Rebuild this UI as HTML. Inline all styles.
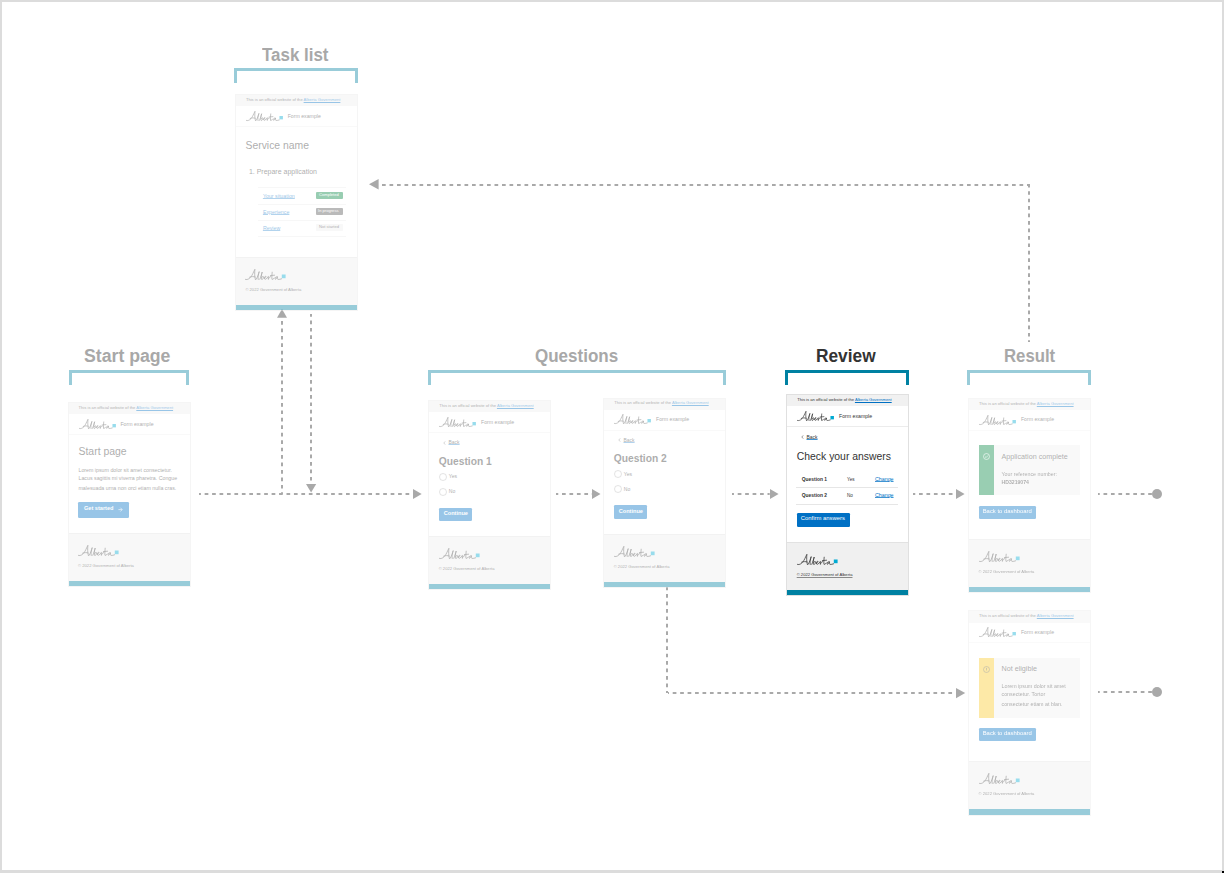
<!DOCTYPE html><html><head><meta charset="utf-8"><style>html,body{margin:0;padding:0;background:#fff}body{width:1224px;height:873px;position:relative;overflow:hidden;font-family:"Liberation Sans",sans-serif}</style></head><body>
<div style="position:absolute;left:0;top:0;width:1224px;height:873px;box-sizing:border-box;border-top:2px solid #dcdcdc;border-left:2px solid #dcdcdc;border-right:2.5px solid #dcdcdc;border-bottom:3px solid #dcdcdc"></div>
<div style="position:absolute;left:262.30px;top:46.99px;font-size:17.50px;line-height:17.50px;color:#a8a8a8;font-weight:700;white-space:nowrap;transform:scaleX(0.967);transform-origin:0 0;">Task list</div>
<div style="position:absolute;left:234.00px;top:68.00px;width:118.00px;height:12px;border:3px solid #99ccd9;border-bottom:none"></div>
<div style="position:absolute;left:84.00px;top:348.19px;font-size:17.50px;line-height:17.50px;color:#a8a8a8;font-weight:700;white-space:nowrap;transform:scaleX(1.010);transform-origin:0 0;">Start page</div>
<div style="position:absolute;left:69.20px;top:370.00px;width:113.80px;height:12px;border:3px solid #99ccd9;border-bottom:none"></div>
<div style="position:absolute;left:535.00px;top:348.19px;font-size:17.50px;line-height:17.50px;color:#a8a8a8;font-weight:700;white-space:nowrap;transform:scaleX(0.972);transform-origin:0 0;">Questions</div>
<div style="position:absolute;left:428.40px;top:370.00px;width:292.00px;height:12px;border:3px solid #99ccd9;border-bottom:none"></div>
<div style="position:absolute;left:816.00px;top:348.29px;font-size:17.50px;line-height:17.50px;color:#333;font-weight:700;white-space:nowrap;transform:scaleX(0.988);transform-origin:0 0;">Review</div>
<div style="position:absolute;left:784.80px;top:370.00px;width:118.40px;height:12px;border:3px solid #0081a2;border-bottom:none"></div>
<div style="position:absolute;left:1003.80px;top:348.29px;font-size:17.50px;line-height:17.50px;color:#a8a8a8;font-weight:700;white-space:nowrap;transform:scaleX(0.957);transform-origin:0 0;">Result</div>
<div style="position:absolute;left:966.60px;top:370.00px;width:118.40px;height:12px;border:3px solid #99ccd9;border-bottom:none"></div>
<svg style="position:absolute;left:199.00px;top:493.00px" width="213.80" height="2"><line x1="0" y1="1" x2="213.80" y2="1" stroke="#a9a9a9" stroke-width="2" stroke-dasharray="3.7 3.74" stroke-dashoffset="1.79"/></svg>
<svg style="position:absolute;left:411.80px;top:488.00px" width="10.70" height="12.00"><polygon points="1.00,1.00 1.00,11.00 9.70,6.00" fill="#a9a9a9"/></svg>
<svg style="position:absolute;left:281.10px;top:318.00px" width="2" height="176.00"><line x1="1" y1="0" x2="1" y2="176.00" stroke="#a9a9a9" stroke-width="2" stroke-dasharray="3.7 3.75" stroke-dashoffset="4.45"/></svg>
<svg style="position:absolute;left:276.10px;top:308.00px" width="12.00" height="10.80"><polygon points="6.00,1.00 1.00,9.80 11.00,9.80" fill="#a9a9a9"/></svg>
<svg style="position:absolute;left:310.10px;top:314.00px" width="2" height="170.00"><line x1="1" y1="0" x2="1" y2="170.00" stroke="#a9a9a9" stroke-width="2" stroke-dasharray="3.7 3.75" stroke-dashoffset="1.00"/></svg>
<svg style="position:absolute;left:305.00px;top:483.20px" width="12.20" height="10.60"><polygon points="1.00,1.00 11.20,1.00 6.10,9.60" fill="#a9a9a9"/></svg>
<svg style="position:absolute;left:555.90px;top:493.00px" width="36.00" height="2"><line x1="0" y1="1" x2="36.00" y2="1" stroke="#a9a9a9" stroke-width="2" stroke-dasharray="3.7 3.75" stroke-dashoffset="1.45"/></svg>
<svg style="position:absolute;left:590.90px;top:488.00px" width="10.50" height="12.00"><polygon points="1.00,1.00 1.00,11.00 9.50,6.00" fill="#a9a9a9"/></svg>
<svg style="position:absolute;left:732.30px;top:493.00px" width="37.70" height="2"><line x1="0" y1="1" x2="37.70" y2="1" stroke="#a9a9a9" stroke-width="2" stroke-dasharray="3.7 3.75" stroke-dashoffset="1.75"/></svg>
<svg style="position:absolute;left:769.00px;top:488.00px" width="10.60" height="12.00"><polygon points="1.00,1.00 1.00,11.00 9.60,6.00" fill="#a9a9a9"/></svg>
<svg style="position:absolute;left:913.20px;top:493.00px" width="42.80" height="2"><line x1="0" y1="1" x2="42.80" y2="1" stroke="#a9a9a9" stroke-width="2" stroke-dasharray="3.7 3.75" stroke-dashoffset="1.45"/></svg>
<svg style="position:absolute;left:955.00px;top:488.00px" width="10.60" height="12.00"><polygon points="1.00,1.00 1.00,11.00 9.60,6.00" fill="#a9a9a9"/></svg>
<svg style="position:absolute;left:1097.90px;top:493.00px" width="54.10" height="2"><line x1="0" y1="1" x2="54.10" y2="1" stroke="#a9a9a9" stroke-width="2" stroke-dasharray="3.7 3.75" stroke-dashoffset="1.95"/></svg>
<div style="position:absolute;left:1151.90px;top:488.80px;width:10px;height:10px;border-radius:50%;background:#a9a9a9"></div>
<svg style="position:absolute;left:1028.30px;top:183.70px" width="2" height="158.30"><line x1="1" y1="0" x2="1" y2="158.30" stroke="#a9a9a9" stroke-width="2" stroke-dasharray="3.7 3.76" stroke-dashoffset="0.29"/></svg>
<svg style="position:absolute;left:382.20px;top:183.70px" width="648.10" height="2"><line x1="0" y1="1" x2="648.10" y2="1" stroke="#a9a9a9" stroke-width="2" stroke-dasharray="3.7 3.80" stroke-dashoffset="0.00"/></svg>
<svg style="position:absolute;left:368.20px;top:178.30px" width="11.60" height="12.40"><polygon points="1.00,6.20 10.60,1.00 10.60,11.40" fill="#a9a9a9"/></svg>
<svg style="position:absolute;left:666.20px;top:587.00px" width="2" height="106.30"><line x1="1" y1="0" x2="1" y2="106.30" stroke="#a9a9a9" stroke-width="2" stroke-dasharray="3.7 3.75" stroke-dashoffset="0.40"/></svg>
<svg style="position:absolute;left:668.20px;top:692.30px" width="287.80" height="2"><line x1="0" y1="1" x2="287.80" y2="1" stroke="#a9a9a9" stroke-width="2" stroke-dasharray="3.7 3.75" stroke-dashoffset="2.75"/></svg>
<svg style="position:absolute;left:955.00px;top:687.20px" width="11.20" height="12.20"><polygon points="1.00,1.00 1.00,11.20 10.20,6.10" fill="#a9a9a9"/></svg>
<svg style="position:absolute;left:1097.90px;top:691.00px" width="54.10" height="2"><line x1="0" y1="1" x2="54.10" y2="1" stroke="#a9a9a9" stroke-width="2" stroke-dasharray="3.7 3.75" stroke-dashoffset="1.95"/></svg>
<div style="position:absolute;left:1151.90px;top:687.00px;width:10px;height:10px;border-radius:50%;background:#a9a9a9"></div>
<div style="position:absolute;left:235.00px;top:94.20px;width:121.50px;height:215.60px;background:#fff;opacity:0.4;">
<div style="position:absolute;left:0.00px;top:0.00px;width:121.50px;height:11.80px;background:#f0f0f0;"></div>
<div style="position:absolute;left:10.9px;top:3.75px;font-size:4.11px;line-height:4.11px;color:#333;white-space:nowrap">This is an official website of the <span style="color:#0070c4;text-decoration:underline;text-decoration-thickness:0.4px;text-underline-offset:0.6px">Alberta Government</span></div>
<div style="position:absolute;left:0.00px;top:32.20px;width:121.50px;height:0.60px;background:#f2f2f2;"></div>
<svg style="position:absolute;left:10.90px;top:16.50px;overflow:visible" width="37.31" height="10.01" viewBox="0 0 41 11"><path d="M0.4,10.4 C2.5,11.2 5.2,9.5 7,6.2 C8.2,4 9.2,1.6 9.9,0.3 C9.6,3.5 9.4,7 10.4,10.6 M4.6,8.2 C6.5,7.4 8.5,7.4 10.2,8 M11.2,10.3 C12.6,8 13.8,4.5 14.2,2.6 C13.2,5.5 12.7,8.5 13.2,10.5 M14.8,10.3 C15.8,8 16.8,4.5 17.2,3 C16.4,6 15.9,9 16.6,10.4 C17.8,10.6 19,8.8 18.4,7.6 C17.8,7 17,7.8 16.8,8.5 M19.2,9.2 C20.4,8.8 21.4,7.6 20.8,7.2 C20,7 19.2,8.6 19.6,10 C20.2,10.8 21.4,10 22,9 M22.2,9 C22.8,8.2 23.2,7.2 23.4,7.4 C23.4,8.6 23.2,9.8 23.4,10.4 C23.8,8.8 24.6,7.4 25.6,7.6 M27.2,3.2 C27,5.6 26.6,8.4 27,10.4 C27.6,10.6 28.6,9.8 29.2,9 M25.4,6.6 L29.6,6.2 M32.4,7.8 C31,7.2 29.8,8.8 30,10 C30.4,10.8 31.6,9.6 32.4,7.8 C32.2,9 32.2,10.2 33,10.4 C34.2,10.6 35.4,10.2 36.6,9.8" fill="none" stroke="#333" stroke-width="0.75" stroke-linecap="round"/><rect x="36.8" y="5.5" width="3.8" height="3.7" fill="#00aad2"/></svg>
<div style="position:absolute;left:52.70px;top:19.50px;font-size:5.20px;line-height:5.20px;color:#333;font-weight:400;white-space:nowrap;">Form example</div>
<div style="position:absolute;left:10.50px;top:47.20px;font-size:10.40px;line-height:10.40px;color:#333;font-weight:400;white-space:nowrap;">Service name</div>
<div style="position:absolute;left:13.90px;top:74.07px;font-size:7.00px;line-height:7.00px;color:#333;font-weight:400;white-space:nowrap;">1. Prepare application</div>
<div style="position:absolute;left:23.00px;top:93.00px;width:88.20px;height:0.50px;background:#ececec;"></div>
<div style="position:absolute;left:23.00px;top:110.20px;width:88.20px;height:0.50px;background:#ececec;"></div>
<div style="position:absolute;left:23.00px;top:126.20px;width:88.20px;height:0.50px;background:#ececec;"></div>
<div style="position:absolute;left:23.00px;top:142.20px;width:88.20px;height:0.50px;background:#ececec;"></div>
<div style="position:absolute;left:27.90px;top:99.55px;font-size:5.30px;line-height:5.30px;color:#0070c4;font-weight:400;white-space:nowrap;text-decoration:underline;text-decoration-color:rgba(0,112,196,0.75);text-decoration-thickness:0.5px;text-underline-offset:0.2px">Your situation</div>
<div style="position:absolute;left:27.90px;top:115.85px;font-size:5.30px;line-height:5.30px;color:#0070c4;font-weight:400;white-space:nowrap;text-decoration:underline;text-decoration-color:rgba(0,112,196,0.75);text-decoration-thickness:0.5px;text-underline-offset:0.2px">Experience</div>
<div style="position:absolute;left:27.90px;top:131.85px;font-size:5.30px;line-height:5.30px;color:#0070c4;font-weight:400;white-space:nowrap;text-decoration:underline;text-decoration-color:rgba(0,112,196,0.75);text-decoration-thickness:0.5px;text-underline-offset:0.2px">Review</div>
<div style="position:absolute;left:81px;top:97.5px;width:27px;height:7px;background:#00853f;border-radius:1px"></div>
<div style="position:absolute;left:84.00px;top:98.55px;font-size:4.10px;line-height:4.10px;color:#fff;font-weight:400;white-space:nowrap;">Completed</div>
<div style="position:absolute;left:80.5px;top:113.8px;width:27.2px;height:7px;background:#555;border-radius:1px"></div>
<div style="position:absolute;left:83.00px;top:114.85px;font-size:4.10px;line-height:4.10px;color:#fff;font-weight:400;white-space:nowrap;">In progress</div>
<div style="position:absolute;left:81px;top:129.8px;width:26.5px;height:7px;background:#eee;border-radius:1px"></div>
<div style="position:absolute;left:84.00px;top:130.85px;font-size:4.10px;line-height:4.10px;color:#333;font-weight:400;white-space:nowrap;">Not started</div>
<div style="position:absolute;left:0.00px;top:162.40px;width:121.50px;height:48.10px;background:#eeeeee;border-top:0.6px solid #e1e1e1;box-sizing:border-box"></div>
<svg style="position:absolute;left:10.40px;top:174.80px;overflow:visible" width="41.00" height="11.00" viewBox="0 0 41 11"><path d="M0.4,10.4 C2.5,11.2 5.2,9.5 7,6.2 C8.2,4 9.2,1.6 9.9,0.3 C9.6,3.5 9.4,7 10.4,10.6 M4.6,8.2 C6.5,7.4 8.5,7.4 10.2,8 M11.2,10.3 C12.6,8 13.8,4.5 14.2,2.6 C13.2,5.5 12.7,8.5 13.2,10.5 M14.8,10.3 C15.8,8 16.8,4.5 17.2,3 C16.4,6 15.9,9 16.6,10.4 C17.8,10.6 19,8.8 18.4,7.6 C17.8,7 17,7.8 16.8,8.5 M19.2,9.2 C20.4,8.8 21.4,7.6 20.8,7.2 C20,7 19.2,8.6 19.6,10 C20.2,10.8 21.4,10 22,9 M22.2,9 C22.8,8.2 23.2,7.2 23.4,7.4 C23.4,8.6 23.2,9.8 23.4,10.4 C23.8,8.8 24.6,7.4 25.6,7.6 M27.2,3.2 C27,5.6 26.6,8.4 27,10.4 C27.6,10.6 28.6,9.8 29.2,9 M25.4,6.6 L29.6,6.2 M32.4,7.8 C31,7.2 29.8,8.8 30,10 C30.4,10.8 31.6,9.6 32.4,7.8 C32.2,9 32.2,10.2 33,10.4 C34.2,10.6 35.4,10.2 36.6,9.8" fill="none" stroke="#333" stroke-width="0.75" stroke-linecap="round"/><rect x="36.8" y="5.5" width="3.8" height="3.7" fill="#00aad2"/></svg>
<div style="position:absolute;left:10.40px;top:193.73px;font-size:4.14px;line-height:4.14px;color:#333;font-weight:400;white-space:nowrap;">© 2022 Government of Alberta</div>
<div style="position:absolute;left:0.00px;top:210.50px;width:121.50px;height:5.10px;background:#0081a2;"></div>
<div style="position:absolute;left:0;top:0;width:120.50px;height:214.60px;border:0.5px solid #e8e8e8;box-sizing:content-box;pointer-events:none"></div>
</div>
<div style="position:absolute;left:67.70px;top:402.20px;width:122.00px;height:183.80px;background:#fff;opacity:0.4;">
<div style="position:absolute;left:0.00px;top:0.00px;width:122.00px;height:11.80px;background:#f0f0f0;"></div>
<div style="position:absolute;left:10.9px;top:3.75px;font-size:4.11px;line-height:4.11px;color:#333;white-space:nowrap">This is an official website of the <span style="color:#0070c4;text-decoration:underline;text-decoration-thickness:0.4px;text-underline-offset:0.6px">Alberta Government</span></div>
<div style="position:absolute;left:0.00px;top:32.20px;width:122.00px;height:0.60px;background:#f2f2f2;"></div>
<svg style="position:absolute;left:10.90px;top:17.10px;overflow:visible" width="37.31" height="10.01" viewBox="0 0 41 11"><path d="M0.4,10.4 C2.5,11.2 5.2,9.5 7,6.2 C8.2,4 9.2,1.6 9.9,0.3 C9.6,3.5 9.4,7 10.4,10.6 M4.6,8.2 C6.5,7.4 8.5,7.4 10.2,8 M11.2,10.3 C12.6,8 13.8,4.5 14.2,2.6 C13.2,5.5 12.7,8.5 13.2,10.5 M14.8,10.3 C15.8,8 16.8,4.5 17.2,3 C16.4,6 15.9,9 16.6,10.4 C17.8,10.6 19,8.8 18.4,7.6 C17.8,7 17,7.8 16.8,8.5 M19.2,9.2 C20.4,8.8 21.4,7.6 20.8,7.2 C20,7 19.2,8.6 19.6,10 C20.2,10.8 21.4,10 22,9 M22.2,9 C22.8,8.2 23.2,7.2 23.4,7.4 C23.4,8.6 23.2,9.8 23.4,10.4 C23.8,8.8 24.6,7.4 25.6,7.6 M27.2,3.2 C27,5.6 26.6,8.4 27,10.4 C27.6,10.6 28.6,9.8 29.2,9 M25.4,6.6 L29.6,6.2 M32.4,7.8 C31,7.2 29.8,8.8 30,10 C30.4,10.8 31.6,9.6 32.4,7.8 C32.2,9 32.2,10.2 33,10.4 C34.2,10.6 35.4,10.2 36.6,9.8" fill="none" stroke="#333" stroke-width="0.75" stroke-linecap="round"/><rect x="36.8" y="5.5" width="3.8" height="3.7" fill="#00aad2"/></svg>
<div style="position:absolute;left:52.70px;top:19.80px;font-size:5.20px;line-height:5.20px;color:#333;font-weight:400;white-space:nowrap;">Form example</div>
<div style="position:absolute;left:10.80px;top:44.85px;font-size:10.45px;line-height:10.45px;color:#333;font-weight:400;white-space:nowrap;">Start page</div>
<div style="position:absolute;left:10.80px;top:65.56px;font-size:5.27px;line-height:5.27px;color:#333;font-weight:400;white-space:nowrap;">Lorem ipsum dolor sit amet consectetur.</div>
<div style="position:absolute;left:10.80px;top:73.66px;font-size:5.27px;line-height:5.27px;color:#333;font-weight:400;white-space:nowrap;">Lacus sagittis mi viverra pharetra. Congue</div>
<div style="position:absolute;left:10.80px;top:83.36px;font-size:5.27px;line-height:5.27px;color:#333;font-weight:400;white-space:nowrap;">malesuada urna non orci etiam nulla cras.</div>
<div style="position:absolute;left:10.30px;top:99.60px;width:51.00px;height:16.00px;background:#0070c4;border-radius:1.2px"></div>
<div style="position:absolute;left:16.30px;top:104.20px;font-size:5.60px;line-height:5.60px;color:#fff;font-weight:700;white-space:nowrap;">Get started</div>
<svg style="position:absolute;left:50.6px;top:105.2px" width="5" height="5" viewBox="0 0 5 5"><path d="M0.4,2.6 H4.1 M2.4,0.7 L4.2,2.6 L2.4,4.5" fill="none" stroke="#fff" stroke-width="0.6"/></svg>
<div style="position:absolute;left:0.00px;top:130.80px;width:122.00px;height:48.00px;background:#eeeeee;border-top:0.6px solid #e1e1e1;box-sizing:border-box"></div>
<svg style="position:absolute;left:10.40px;top:142.80px;overflow:visible" width="41.00" height="11.00" viewBox="0 0 41 11"><path d="M0.4,10.4 C2.5,11.2 5.2,9.5 7,6.2 C8.2,4 9.2,1.6 9.9,0.3 C9.6,3.5 9.4,7 10.4,10.6 M4.6,8.2 C6.5,7.4 8.5,7.4 10.2,8 M11.2,10.3 C12.6,8 13.8,4.5 14.2,2.6 C13.2,5.5 12.7,8.5 13.2,10.5 M14.8,10.3 C15.8,8 16.8,4.5 17.2,3 C16.4,6 15.9,9 16.6,10.4 C17.8,10.6 19,8.8 18.4,7.6 C17.8,7 17,7.8 16.8,8.5 M19.2,9.2 C20.4,8.8 21.4,7.6 20.8,7.2 C20,7 19.2,8.6 19.6,10 C20.2,10.8 21.4,10 22,9 M22.2,9 C22.8,8.2 23.2,7.2 23.4,7.4 C23.4,8.6 23.2,9.8 23.4,10.4 C23.8,8.8 24.6,7.4 25.6,7.6 M27.2,3.2 C27,5.6 26.6,8.4 27,10.4 C27.6,10.6 28.6,9.8 29.2,9 M25.4,6.6 L29.6,6.2 M32.4,7.8 C31,7.2 29.8,8.8 30,10 C30.4,10.8 31.6,9.6 32.4,7.8 C32.2,9 32.2,10.2 33,10.4 C34.2,10.6 35.4,10.2 36.6,9.8" fill="none" stroke="#333" stroke-width="0.75" stroke-linecap="round"/><rect x="36.8" y="5.5" width="3.8" height="3.7" fill="#00aad2"/></svg>
<div style="position:absolute;left:10.40px;top:161.93px;font-size:4.14px;line-height:4.14px;color:#333;font-weight:400;white-space:nowrap;">© 2022 Government of Alberta</div>
<div style="position:absolute;left:0.00px;top:178.80px;width:122.00px;height:5.00px;background:#0081a2;"></div>
<div style="position:absolute;left:0;top:0;width:121.00px;height:182.80px;border:0.5px solid #e8e8e8;box-sizing:content-box;pointer-events:none"></div>
</div>
<div style="position:absolute;left:428.30px;top:400.20px;width:122.00px;height:189.00px;background:#fff;opacity:0.4;">
<div style="position:absolute;left:0.00px;top:0.00px;width:122.00px;height:12.00px;background:#f0f0f0;"></div>
<div style="position:absolute;left:10.9px;top:3.65px;font-size:4.11px;line-height:4.11px;color:#333;white-space:nowrap">This is an official website of the <span style="color:#0070c4;text-decoration:underline;text-decoration-thickness:0.4px;text-underline-offset:0.6px">Alberta Government</span></div>
<div style="position:absolute;left:0.00px;top:32.00px;width:122.00px;height:0.60px;background:#f2f2f2;"></div>
<svg style="position:absolute;left:10.90px;top:16.50px;overflow:visible" width="37.31" height="10.01" viewBox="0 0 41 11"><path d="M0.4,10.4 C2.5,11.2 5.2,9.5 7,6.2 C8.2,4 9.2,1.6 9.9,0.3 C9.6,3.5 9.4,7 10.4,10.6 M4.6,8.2 C6.5,7.4 8.5,7.4 10.2,8 M11.2,10.3 C12.6,8 13.8,4.5 14.2,2.6 C13.2,5.5 12.7,8.5 13.2,10.5 M14.8,10.3 C15.8,8 16.8,4.5 17.2,3 C16.4,6 15.9,9 16.6,10.4 C17.8,10.6 19,8.8 18.4,7.6 C17.8,7 17,7.8 16.8,8.5 M19.2,9.2 C20.4,8.8 21.4,7.6 20.8,7.2 C20,7 19.2,8.6 19.6,10 C20.2,10.8 21.4,10 22,9 M22.2,9 C22.8,8.2 23.2,7.2 23.4,7.4 C23.4,8.6 23.2,9.8 23.4,10.4 C23.8,8.8 24.6,7.4 25.6,7.6 M27.2,3.2 C27,5.6 26.6,8.4 27,10.4 C27.6,10.6 28.6,9.8 29.2,9 M25.4,6.6 L29.6,6.2 M32.4,7.8 C31,7.2 29.8,8.8 30,10 C30.4,10.8 31.6,9.6 32.4,7.8 C32.2,9 32.2,10.2 33,10.4 C34.2,10.6 35.4,10.2 36.6,9.8" fill="none" stroke="#333" stroke-width="0.75" stroke-linecap="round"/><rect x="36.8" y="5.5" width="3.8" height="3.7" fill="#00aad2"/></svg>
<div style="position:absolute;left:52.70px;top:19.50px;font-size:5.20px;line-height:5.20px;color:#333;font-weight:400;white-space:nowrap;">Form example</div>
<svg style="position:absolute;left:14.5px;top:40.60px" width="3" height="4" viewBox="0 0 3 4"><path d="M2.2,0.4 L0.8,2 L2.2,3.6" fill="none" stroke="#333" stroke-width="0.5"/></svg>
<div style="position:absolute;left:20.20px;top:40.10px;font-size:5.00px;line-height:5.00px;color:#333;font-weight:400;white-space:nowrap;text-decoration:underline;text-decoration-color:rgba(0,112,196,0.75);text-decoration-thickness:0.5px;text-underline-offset:0.2px">Back</div>
<div style="position:absolute;left:10.50px;top:56.62px;font-size:10.25px;line-height:10.25px;color:#333;font-weight:700;white-space:nowrap;">Question 1</div>
<svg style="position:absolute;left:10.4px;top:72.70px" width="8" height="8" viewBox="0 0 8 8"><circle cx="4" cy="4" r="3.5" fill="#fff" stroke="#666" stroke-width="0.45"/></svg>
<div style="position:absolute;left:20.50px;top:74.15px;font-size:5.10px;line-height:5.10px;color:#333;font-weight:400;white-space:nowrap;">Yes</div>
<svg style="position:absolute;left:10.4px;top:87.40px" width="8" height="8" viewBox="0 0 8 8"><circle cx="4" cy="4" r="3.5" fill="#fff" stroke="#666" stroke-width="0.45"/></svg>
<div style="position:absolute;left:20.50px;top:88.85px;font-size:5.10px;line-height:5.10px;color:#333;font-weight:400;white-space:nowrap;">No</div>
<div style="position:absolute;left:10.60px;top:107.70px;width:33.30px;height:13.10px;background:#0070c4;border-radius:1.2px"></div>
<div style="position:absolute;left:15.40px;top:110.85px;font-size:5.60px;line-height:5.60px;color:#fff;font-weight:700;white-space:nowrap;">Continue</div>
<div style="position:absolute;left:0.00px;top:135.80px;width:122.00px;height:48.00px;background:#eeeeee;border-top:0.6px solid #e1e1e1;box-sizing:border-box"></div>
<svg style="position:absolute;left:10.40px;top:147.80px;overflow:visible" width="41.00" height="11.00" viewBox="0 0 41 11"><path d="M0.4,10.4 C2.5,11.2 5.2,9.5 7,6.2 C8.2,4 9.2,1.6 9.9,0.3 C9.6,3.5 9.4,7 10.4,10.6 M4.6,8.2 C6.5,7.4 8.5,7.4 10.2,8 M11.2,10.3 C12.6,8 13.8,4.5 14.2,2.6 C13.2,5.5 12.7,8.5 13.2,10.5 M14.8,10.3 C15.8,8 16.8,4.5 17.2,3 C16.4,6 15.9,9 16.6,10.4 C17.8,10.6 19,8.8 18.4,7.6 C17.8,7 17,7.8 16.8,8.5 M19.2,9.2 C20.4,8.8 21.4,7.6 20.8,7.2 C20,7 19.2,8.6 19.6,10 C20.2,10.8 21.4,10 22,9 M22.2,9 C22.8,8.2 23.2,7.2 23.4,7.4 C23.4,8.6 23.2,9.8 23.4,10.4 C23.8,8.8 24.6,7.4 25.6,7.6 M27.2,3.2 C27,5.6 26.6,8.4 27,10.4 C27.6,10.6 28.6,9.8 29.2,9 M25.4,6.6 L29.6,6.2 M32.4,7.8 C31,7.2 29.8,8.8 30,10 C30.4,10.8 31.6,9.6 32.4,7.8 C32.2,9 32.2,10.2 33,10.4 C34.2,10.6 35.4,10.2 36.6,9.8" fill="none" stroke="#333" stroke-width="0.75" stroke-linecap="round"/><rect x="36.8" y="5.5" width="3.8" height="3.7" fill="#00aad2"/></svg>
<div style="position:absolute;left:10.40px;top:167.13px;font-size:4.14px;line-height:4.14px;color:#333;font-weight:400;white-space:nowrap;">© 2022 Government of Alberta</div>
<div style="position:absolute;left:0.00px;top:183.80px;width:122.00px;height:5.20px;background:#0081a2;"></div>
<div style="position:absolute;left:0;top:0;width:121.00px;height:188.00px;border:0.5px solid #e8e8e8;box-sizing:content-box;pointer-events:none"></div>
</div>
<div style="position:absolute;left:603.30px;top:397.80px;width:122.00px;height:189.30px;background:#fff;opacity:0.4;">
<div style="position:absolute;left:0.00px;top:0.00px;width:122.00px;height:12.00px;background:#f0f0f0;"></div>
<div style="position:absolute;left:10.9px;top:3.65px;font-size:4.11px;line-height:4.11px;color:#333;white-space:nowrap">This is an official website of the <span style="color:#0070c4;text-decoration:underline;text-decoration-thickness:0.4px;text-underline-offset:0.6px">Alberta Government</span></div>
<div style="position:absolute;left:0.00px;top:32.00px;width:122.00px;height:0.60px;background:#f2f2f2;"></div>
<svg style="position:absolute;left:10.90px;top:16.50px;overflow:visible" width="37.31" height="10.01" viewBox="0 0 41 11"><path d="M0.4,10.4 C2.5,11.2 5.2,9.5 7,6.2 C8.2,4 9.2,1.6 9.9,0.3 C9.6,3.5 9.4,7 10.4,10.6 M4.6,8.2 C6.5,7.4 8.5,7.4 10.2,8 M11.2,10.3 C12.6,8 13.8,4.5 14.2,2.6 C13.2,5.5 12.7,8.5 13.2,10.5 M14.8,10.3 C15.8,8 16.8,4.5 17.2,3 C16.4,6 15.9,9 16.6,10.4 C17.8,10.6 19,8.8 18.4,7.6 C17.8,7 17,7.8 16.8,8.5 M19.2,9.2 C20.4,8.8 21.4,7.6 20.8,7.2 C20,7 19.2,8.6 19.6,10 C20.2,10.8 21.4,10 22,9 M22.2,9 C22.8,8.2 23.2,7.2 23.4,7.4 C23.4,8.6 23.2,9.8 23.4,10.4 C23.8,8.8 24.6,7.4 25.6,7.6 M27.2,3.2 C27,5.6 26.6,8.4 27,10.4 C27.6,10.6 28.6,9.8 29.2,9 M25.4,6.6 L29.6,6.2 M32.4,7.8 C31,7.2 29.8,8.8 30,10 C30.4,10.8 31.6,9.6 32.4,7.8 C32.2,9 32.2,10.2 33,10.4 C34.2,10.6 35.4,10.2 36.6,9.8" fill="none" stroke="#333" stroke-width="0.75" stroke-linecap="round"/><rect x="36.8" y="5.5" width="3.8" height="3.7" fill="#00aad2"/></svg>
<div style="position:absolute;left:52.70px;top:19.50px;font-size:5.20px;line-height:5.20px;color:#333;font-weight:400;white-space:nowrap;">Form example</div>
<svg style="position:absolute;left:14.5px;top:40.60px" width="3" height="4" viewBox="0 0 3 4"><path d="M2.2,0.4 L0.8,2 L2.2,3.6" fill="none" stroke="#333" stroke-width="0.5"/></svg>
<div style="position:absolute;left:20.20px;top:40.10px;font-size:5.00px;line-height:5.00px;color:#333;font-weight:400;white-space:nowrap;text-decoration:underline;text-decoration-color:rgba(0,112,196,0.75);text-decoration-thickness:0.5px;text-underline-offset:0.2px">Back</div>
<div style="position:absolute;left:10.50px;top:56.62px;font-size:10.25px;line-height:10.25px;color:#333;font-weight:700;white-space:nowrap;">Question 2</div>
<svg style="position:absolute;left:10.4px;top:72.70px" width="8" height="8" viewBox="0 0 8 8"><circle cx="4" cy="4" r="3.5" fill="#fff" stroke="#666" stroke-width="0.45"/></svg>
<div style="position:absolute;left:20.50px;top:74.15px;font-size:5.10px;line-height:5.10px;color:#333;font-weight:400;white-space:nowrap;">Yes</div>
<svg style="position:absolute;left:10.4px;top:87.40px" width="8" height="8" viewBox="0 0 8 8"><circle cx="4" cy="4" r="3.5" fill="#fff" stroke="#666" stroke-width="0.45"/></svg>
<div style="position:absolute;left:20.50px;top:88.85px;font-size:5.10px;line-height:5.10px;color:#333;font-weight:400;white-space:nowrap;">No</div>
<div style="position:absolute;left:10.60px;top:107.70px;width:33.30px;height:13.10px;background:#0070c4;border-radius:1.2px"></div>
<div style="position:absolute;left:15.40px;top:110.85px;font-size:5.60px;line-height:5.60px;color:#fff;font-weight:700;white-space:nowrap;">Continue</div>
<div style="position:absolute;left:0.00px;top:135.80px;width:122.00px;height:48.00px;background:#eeeeee;border-top:0.6px solid #e1e1e1;box-sizing:border-box"></div>
<svg style="position:absolute;left:10.40px;top:147.80px;overflow:visible" width="41.00" height="11.00" viewBox="0 0 41 11"><path d="M0.4,10.4 C2.5,11.2 5.2,9.5 7,6.2 C8.2,4 9.2,1.6 9.9,0.3 C9.6,3.5 9.4,7 10.4,10.6 M4.6,8.2 C6.5,7.4 8.5,7.4 10.2,8 M11.2,10.3 C12.6,8 13.8,4.5 14.2,2.6 C13.2,5.5 12.7,8.5 13.2,10.5 M14.8,10.3 C15.8,8 16.8,4.5 17.2,3 C16.4,6 15.9,9 16.6,10.4 C17.8,10.6 19,8.8 18.4,7.6 C17.8,7 17,7.8 16.8,8.5 M19.2,9.2 C20.4,8.8 21.4,7.6 20.8,7.2 C20,7 19.2,8.6 19.6,10 C20.2,10.8 21.4,10 22,9 M22.2,9 C22.8,8.2 23.2,7.2 23.4,7.4 C23.4,8.6 23.2,9.8 23.4,10.4 C23.8,8.8 24.6,7.4 25.6,7.6 M27.2,3.2 C27,5.6 26.6,8.4 27,10.4 C27.6,10.6 28.6,9.8 29.2,9 M25.4,6.6 L29.6,6.2 M32.4,7.8 C31,7.2 29.8,8.8 30,10 C30.4,10.8 31.6,9.6 32.4,7.8 C32.2,9 32.2,10.2 33,10.4 C34.2,10.6 35.4,10.2 36.6,9.8" fill="none" stroke="#333" stroke-width="0.75" stroke-linecap="round"/><rect x="36.8" y="5.5" width="3.8" height="3.7" fill="#00aad2"/></svg>
<div style="position:absolute;left:10.40px;top:167.13px;font-size:4.14px;line-height:4.14px;color:#333;font-weight:400;white-space:nowrap;">© 2022 Government of Alberta</div>
<div style="position:absolute;left:0.00px;top:183.80px;width:122.00px;height:5.20px;background:#0081a2;"></div>
<div style="position:absolute;left:0;top:0;width:121.00px;height:188.30px;border:0.5px solid #e8e8e8;box-sizing:content-box;pointer-events:none"></div>
</div>
<div style="position:absolute;left:786.30px;top:394.00px;width:121.40px;height:200.90px;background:#fff;">
<div style="position:absolute;left:0.00px;top:0.00px;width:121.40px;height:12.40px;background:#f1f1f1;"></div>
<div style="position:absolute;left:10.9px;top:3.85px;font-size:4.11px;line-height:4.11px;color:#333;white-space:nowrap">This is an official website of the <span style="color:#0070c4;text-decoration:underline;text-decoration-thickness:0.4px;text-underline-offset:0.6px">Alberta Government</span></div>
<div style="position:absolute;left:0.00px;top:31.80px;width:121.40px;height:0.60px;background:#ececec;"></div>
<svg style="position:absolute;left:10.90px;top:17.00px;overflow:visible" width="37.31" height="10.01" viewBox="0 0 41 11"><path d="M0.4,10.4 C2.5,11.2 5.2,9.5 7,6.2 C8.2,4 9.2,1.6 9.9,0.3 C9.6,3.5 9.4,7 10.4,10.6 M4.6,8.2 C6.5,7.4 8.5,7.4 10.2,8 M11.2,10.3 C12.6,8 13.8,4.5 14.2,2.6 C13.2,5.5 12.7,8.5 13.2,10.5 M14.8,10.3 C15.8,8 16.8,4.5 17.2,3 C16.4,6 15.9,9 16.6,10.4 C17.8,10.6 19,8.8 18.4,7.6 C17.8,7 17,7.8 16.8,8.5 M19.2,9.2 C20.4,8.8 21.4,7.6 20.8,7.2 C20,7 19.2,8.6 19.6,10 C20.2,10.8 21.4,10 22,9 M22.2,9 C22.8,8.2 23.2,7.2 23.4,7.4 C23.4,8.6 23.2,9.8 23.4,10.4 C23.8,8.8 24.6,7.4 25.6,7.6 M27.2,3.2 C27,5.6 26.6,8.4 27,10.4 C27.6,10.6 28.6,9.8 29.2,9 M25.4,6.6 L29.6,6.2 M32.4,7.8 C31,7.2 29.8,8.8 30,10 C30.4,10.8 31.6,9.6 32.4,7.8 C32.2,9 32.2,10.2 33,10.4 C34.2,10.6 35.4,10.2 36.6,9.8" fill="none" stroke="#333" stroke-width="0.75" stroke-linecap="round"/><rect x="36.8" y="5.5" width="3.8" height="3.7" fill="#00aad2"/></svg>
<div style="position:absolute;left:52.70px;top:19.90px;font-size:5.20px;line-height:5.20px;color:#333;font-weight:400;white-space:nowrap;">Form example</div>
<svg style="position:absolute;left:14.5px;top:41.10px" width="3" height="4" viewBox="0 0 3 4"><path d="M2.2,0.4 L0.8,2 L2.2,3.6" fill="none" stroke="#333" stroke-width="0.5"/></svg>
<div style="position:absolute;left:20.20px;top:40.60px;font-size:5.00px;line-height:5.00px;color:#333;font-weight:400;white-space:nowrap;text-decoration:underline;text-decoration-color:rgba(0,112,196,0.75);text-decoration-thickness:0.5px;text-underline-offset:0.2px">Back</div>
<div style="position:absolute;left:10.50px;top:57.60px;font-size:10.40px;line-height:10.40px;color:#333;font-weight:400;white-space:nowrap;">Check your answers</div>
<div style="position:absolute;left:15.50px;top:83.75px;font-size:4.90px;line-height:4.90px;color:#333;font-weight:700;white-space:nowrap;">Question 1</div>
<div style="position:absolute;left:60.70px;top:83.90px;font-size:4.60px;line-height:4.60px;color:#333;font-weight:400;white-space:nowrap;">Yes</div>
<div style="position:absolute;left:88.70px;top:82.75px;font-size:5.30px;line-height:5.30px;color:#0070c4;font-weight:400;white-space:nowrap;text-decoration:underline;text-decoration-color:rgba(0,112,196,0.75);text-decoration-thickness:0.5px;text-underline-offset:0.2px">Change</div>
<div style="position:absolute;left:15.50px;top:99.75px;font-size:4.90px;line-height:4.90px;color:#333;font-weight:700;white-space:nowrap;">Question 2</div>
<div style="position:absolute;left:60.70px;top:99.90px;font-size:4.60px;line-height:4.60px;color:#333;font-weight:400;white-space:nowrap;">No</div>
<div style="position:absolute;left:88.70px;top:98.75px;font-size:5.30px;line-height:5.30px;color:#0070c4;font-weight:400;white-space:nowrap;text-decoration:underline;text-decoration-color:rgba(0,112,196,0.75);text-decoration-thickness:0.5px;text-underline-offset:0.2px">Change</div>
<div style="position:absolute;left:10.20px;top:93.20px;width:101.30px;height:0.50px;background:#e6e6e6;"></div>
<div style="position:absolute;left:10.20px;top:109.50px;width:101.30px;height:0.50px;background:#e6e6e6;"></div>
<div style="position:absolute;left:10.30px;top:119.20px;width:53.30px;height:13.60px;background:#0070c4;border-radius:1.2px"></div>
<div style="position:absolute;left:14.50px;top:122.45px;font-size:5.90px;line-height:5.90px;color:#fff;font-weight:400;white-space:nowrap;">Confirm answers</div>
<div style="position:absolute;left:0.00px;top:147.90px;width:121.40px;height:48.10px;background:#f0f0f0;border-top:0.6px solid #e2e2e2;box-sizing:border-box"></div>
<svg style="position:absolute;left:10.40px;top:159.80px;overflow:visible" width="41.00" height="11.00" viewBox="0 0 41 11"><path d="M0.4,10.4 C2.5,11.2 5.2,9.5 7,6.2 C8.2,4 9.2,1.6 9.9,0.3 C9.6,3.5 9.4,7 10.4,10.6 M4.6,8.2 C6.5,7.4 8.5,7.4 10.2,8 M11.2,10.3 C12.6,8 13.8,4.5 14.2,2.6 C13.2,5.5 12.7,8.5 13.2,10.5 M14.8,10.3 C15.8,8 16.8,4.5 17.2,3 C16.4,6 15.9,9 16.6,10.4 C17.8,10.6 19,8.8 18.4,7.6 C17.8,7 17,7.8 16.8,8.5 M19.2,9.2 C20.4,8.8 21.4,7.6 20.8,7.2 C20,7 19.2,8.6 19.6,10 C20.2,10.8 21.4,10 22,9 M22.2,9 C22.8,8.2 23.2,7.2 23.4,7.4 C23.4,8.6 23.2,9.8 23.4,10.4 C23.8,8.8 24.6,7.4 25.6,7.6 M27.2,3.2 C27,5.6 26.6,8.4 27,10.4 C27.6,10.6 28.6,9.8 29.2,9 M25.4,6.6 L29.6,6.2 M32.4,7.8 C31,7.2 29.8,8.8 30,10 C30.4,10.8 31.6,9.6 32.4,7.8 C32.2,9 32.2,10.2 33,10.4 C34.2,10.6 35.4,10.2 36.6,9.8" fill="none" stroke="#333" stroke-width="0.75" stroke-linecap="round"/><rect x="36.8" y="5.5" width="3.8" height="3.7" fill="#00aad2"/></svg>
<div style="position:absolute;left:10.40px;top:179.03px;font-size:4.14px;line-height:4.14px;color:#333;font-weight:400;white-space:nowrap;text-decoration:underline;text-decoration-color:#8a8a8a;text-decoration-thickness:0.4px;text-underline-offset:0.6px;">© 2022 Government of Alberta</div>
<div style="position:absolute;left:0.00px;top:196.00px;width:121.40px;height:4.90px;background:#0081a2;"></div>
<div style="position:absolute;left:0;top:0;width:120.40px;height:199.90px;border:0.5px solid #e0e0e0;box-sizing:content-box;pointer-events:none"></div>
</div>
<div style="position:absolute;left:968.20px;top:398.20px;width:122.00px;height:193.80px;background:#fff;opacity:0.4;">
<div style="position:absolute;left:0.00px;top:0.00px;width:122.00px;height:12.20px;background:#f0f0f0;"></div>
<div style="position:absolute;left:10.9px;top:3.45px;font-size:4.11px;line-height:4.11px;color:#333;white-space:nowrap">This is an official website of the <span style="color:#0070c4;text-decoration:underline;text-decoration-thickness:0.4px;text-underline-offset:0.6px">Alberta Government</span></div>
<div style="position:absolute;left:0.00px;top:31.90px;width:122.00px;height:0.60px;background:#f2f2f2;"></div>
<svg style="position:absolute;left:10.90px;top:16.50px;overflow:visible" width="37.31" height="10.01" viewBox="0 0 41 11"><path d="M0.4,10.4 C2.5,11.2 5.2,9.5 7,6.2 C8.2,4 9.2,1.6 9.9,0.3 C9.6,3.5 9.4,7 10.4,10.6 M4.6,8.2 C6.5,7.4 8.5,7.4 10.2,8 M11.2,10.3 C12.6,8 13.8,4.5 14.2,2.6 C13.2,5.5 12.7,8.5 13.2,10.5 M14.8,10.3 C15.8,8 16.8,4.5 17.2,3 C16.4,6 15.9,9 16.6,10.4 C17.8,10.6 19,8.8 18.4,7.6 C17.8,7 17,7.8 16.8,8.5 M19.2,9.2 C20.4,8.8 21.4,7.6 20.8,7.2 C20,7 19.2,8.6 19.6,10 C20.2,10.8 21.4,10 22,9 M22.2,9 C22.8,8.2 23.2,7.2 23.4,7.4 C23.4,8.6 23.2,9.8 23.4,10.4 C23.8,8.8 24.6,7.4 25.6,7.6 M27.2,3.2 C27,5.6 26.6,8.4 27,10.4 C27.6,10.6 28.6,9.8 29.2,9 M25.4,6.6 L29.6,6.2 M32.4,7.8 C31,7.2 29.8,8.8 30,10 C30.4,10.8 31.6,9.6 32.4,7.8 C32.2,9 32.2,10.2 33,10.4 C34.2,10.6 35.4,10.2 36.6,9.8" fill="none" stroke="#333" stroke-width="0.75" stroke-linecap="round"/><rect x="36.8" y="5.5" width="3.8" height="3.7" fill="#00aad2"/></svg>
<div style="position:absolute;left:52.70px;top:19.30px;font-size:5.20px;line-height:5.20px;color:#333;font-weight:400;white-space:nowrap;">Form example</div>
<div style="position:absolute;left:10.80px;top:47.10px;width:101.00px;height:49.80px;background:#f1f1f1;"></div>
<div style="position:absolute;left:10.80px;top:47.10px;width:15.00px;height:49.80px;background:#00853f;"></div>
<svg style="position:absolute;left:14.7px;top:54.8px" width="7" height="7" viewBox="0 0 7 7"><circle cx="3.5" cy="3.5" r="3" fill="none" stroke="#fff" stroke-width="0.6"/><path d="M2,3.6 L3.1,4.6 L5,2.5" fill="none" stroke="#fff" stroke-width="0.6"/></svg>
<div style="position:absolute;left:33.30px;top:54.60px;font-size:7.20px;line-height:7.20px;color:#333;font-weight:400;white-space:nowrap;">Application complete</div>
<div style="position:absolute;left:33.30px;top:73.35px;font-size:5.30px;line-height:5.30px;color:#333;font-weight:400;white-space:nowrap;">Your reference number:</div>
<div style="position:absolute;left:33.30px;top:81.52px;font-size:5.15px;line-height:5.15px;color:#333;font-weight:700;white-space:nowrap;">HD3219074</div>
<div style="position:absolute;left:10.80px;top:107.50px;width:57.30px;height:13.10px;background:#0070c4;border-radius:1.2px"></div>
<div style="position:absolute;left:14.50px;top:110.50px;font-size:5.90px;line-height:5.90px;color:#fff;font-weight:400;white-space:nowrap;">Back to dashboard</div>
<div style="position:absolute;left:0.00px;top:140.60px;width:122.00px;height:48.10px;background:#eeeeee;border-top:0.6px solid #e1e1e1;box-sizing:border-box"></div>
<svg style="position:absolute;left:10.40px;top:152.80px;overflow:visible" width="41.00" height="11.00" viewBox="0 0 41 11"><path d="M0.4,10.4 C2.5,11.2 5.2,9.5 7,6.2 C8.2,4 9.2,1.6 9.9,0.3 C9.6,3.5 9.4,7 10.4,10.6 M4.6,8.2 C6.5,7.4 8.5,7.4 10.2,8 M11.2,10.3 C12.6,8 13.8,4.5 14.2,2.6 C13.2,5.5 12.7,8.5 13.2,10.5 M14.8,10.3 C15.8,8 16.8,4.5 17.2,3 C16.4,6 15.9,9 16.6,10.4 C17.8,10.6 19,8.8 18.4,7.6 C17.8,7 17,7.8 16.8,8.5 M19.2,9.2 C20.4,8.8 21.4,7.6 20.8,7.2 C20,7 19.2,8.6 19.6,10 C20.2,10.8 21.4,10 22,9 M22.2,9 C22.8,8.2 23.2,7.2 23.4,7.4 C23.4,8.6 23.2,9.8 23.4,10.4 C23.8,8.8 24.6,7.4 25.6,7.6 M27.2,3.2 C27,5.6 26.6,8.4 27,10.4 C27.6,10.6 28.6,9.8 29.2,9 M25.4,6.6 L29.6,6.2 M32.4,7.8 C31,7.2 29.8,8.8 30,10 C30.4,10.8 31.6,9.6 32.4,7.8 C32.2,9 32.2,10.2 33,10.4 C34.2,10.6 35.4,10.2 36.6,9.8" fill="none" stroke="#333" stroke-width="0.75" stroke-linecap="round"/><rect x="36.8" y="5.5" width="3.8" height="3.7" fill="#00aad2"/></svg>
<div style="position:absolute;left:10.40px;top:171.53px;font-size:4.14px;line-height:4.14px;color:#333;font-weight:400;white-space:nowrap;">© 2022 Government of Alberta</div>
<div style="position:absolute;left:0.00px;top:188.70px;width:122.00px;height:5.10px;background:#0081a2;"></div>
<div style="position:absolute;left:0;top:0;width:121.00px;height:192.80px;border:0.5px solid #e8e8e8;box-sizing:content-box;pointer-events:none"></div>
</div>
<div style="position:absolute;left:968.20px;top:610.00px;width:122.00px;height:204.70px;background:#fff;opacity:0.4;">
<div style="position:absolute;left:0.00px;top:0.00px;width:122.00px;height:12.70px;background:#f0f0f0;"></div>
<div style="position:absolute;left:10.9px;top:4.15px;font-size:4.11px;line-height:4.11px;color:#333;white-space:nowrap">This is an official website of the <span style="color:#0070c4;text-decoration:underline;text-decoration-thickness:0.4px;text-underline-offset:0.6px">Alberta Government</span></div>
<div style="position:absolute;left:0.00px;top:32.20px;width:122.00px;height:0.60px;background:#f2f2f2;"></div>
<svg style="position:absolute;left:10.90px;top:17.00px;overflow:visible" width="37.31" height="10.01" viewBox="0 0 41 11"><path d="M0.4,10.4 C2.5,11.2 5.2,9.5 7,6.2 C8.2,4 9.2,1.6 9.9,0.3 C9.6,3.5 9.4,7 10.4,10.6 M4.6,8.2 C6.5,7.4 8.5,7.4 10.2,8 M11.2,10.3 C12.6,8 13.8,4.5 14.2,2.6 C13.2,5.5 12.7,8.5 13.2,10.5 M14.8,10.3 C15.8,8 16.8,4.5 17.2,3 C16.4,6 15.9,9 16.6,10.4 C17.8,10.6 19,8.8 18.4,7.6 C17.8,7 17,7.8 16.8,8.5 M19.2,9.2 C20.4,8.8 21.4,7.6 20.8,7.2 C20,7 19.2,8.6 19.6,10 C20.2,10.8 21.4,10 22,9 M22.2,9 C22.8,8.2 23.2,7.2 23.4,7.4 C23.4,8.6 23.2,9.8 23.4,10.4 C23.8,8.8 24.6,7.4 25.6,7.6 M27.2,3.2 C27,5.6 26.6,8.4 27,10.4 C27.6,10.6 28.6,9.8 29.2,9 M25.4,6.6 L29.6,6.2 M32.4,7.8 C31,7.2 29.8,8.8 30,10 C30.4,10.8 31.6,9.6 32.4,7.8 C32.2,9 32.2,10.2 33,10.4 C34.2,10.6 35.4,10.2 36.6,9.8" fill="none" stroke="#333" stroke-width="0.75" stroke-linecap="round"/><rect x="36.8" y="5.5" width="3.8" height="3.7" fill="#00aad2"/></svg>
<div style="position:absolute;left:52.70px;top:20.10px;font-size:5.20px;line-height:5.20px;color:#333;font-weight:400;white-space:nowrap;">Form example</div>
<div style="position:absolute;left:10.80px;top:48.00px;width:101.00px;height:59.80px;background:#f1f1f1;"></div>
<div style="position:absolute;left:10.80px;top:48.00px;width:15.00px;height:59.80px;background:#f9c823;"></div>
<svg style="position:absolute;left:14.8px;top:55.6px" width="7" height="7" viewBox="0 0 7 7"><circle cx="3.5" cy="3.5" r="3" fill="none" stroke="#333" stroke-width="0.5"/><path d="M3.5,1.8 V3.9 M3.5,4.6 V5.1" fill="none" stroke="#333" stroke-width="0.6"/></svg>
<div style="position:absolute;left:33.30px;top:55.10px;font-size:7.20px;line-height:7.20px;color:#333;font-weight:400;white-space:nowrap;">Not eligible</div>
<div style="position:absolute;left:33.30px;top:73.83px;font-size:5.33px;line-height:5.33px;color:#333;font-weight:400;white-space:nowrap;">Lorem ipsum dolor sit amet</div>
<div style="position:absolute;left:33.30px;top:82.13px;font-size:5.33px;line-height:5.33px;color:#333;font-weight:400;white-space:nowrap;">consectetur. Tortor</div>
<div style="position:absolute;left:33.30px;top:92.03px;font-size:5.33px;line-height:5.33px;color:#333;font-weight:400;white-space:nowrap;">consectetur etiam at blan.</div>
<div style="position:absolute;left:10.80px;top:117.90px;width:57.30px;height:13.00px;background:#0070c4;border-radius:1.2px"></div>
<div style="position:absolute;left:14.50px;top:120.85px;font-size:5.90px;line-height:5.90px;color:#fff;font-weight:400;white-space:nowrap;">Back to dashboard</div>
<div style="position:absolute;left:0.00px;top:150.80px;width:122.00px;height:48.10px;background:#eeeeee;border-top:0.6px solid #e1e1e1;box-sizing:border-box"></div>
<svg style="position:absolute;left:10.40px;top:163.00px;overflow:visible" width="41.00" height="11.00" viewBox="0 0 41 11"><path d="M0.4,10.4 C2.5,11.2 5.2,9.5 7,6.2 C8.2,4 9.2,1.6 9.9,0.3 C9.6,3.5 9.4,7 10.4,10.6 M4.6,8.2 C6.5,7.4 8.5,7.4 10.2,8 M11.2,10.3 C12.6,8 13.8,4.5 14.2,2.6 C13.2,5.5 12.7,8.5 13.2,10.5 M14.8,10.3 C15.8,8 16.8,4.5 17.2,3 C16.4,6 15.9,9 16.6,10.4 C17.8,10.6 19,8.8 18.4,7.6 C17.8,7 17,7.8 16.8,8.5 M19.2,9.2 C20.4,8.8 21.4,7.6 20.8,7.2 C20,7 19.2,8.6 19.6,10 C20.2,10.8 21.4,10 22,9 M22.2,9 C22.8,8.2 23.2,7.2 23.4,7.4 C23.4,8.6 23.2,9.8 23.4,10.4 C23.8,8.8 24.6,7.4 25.6,7.6 M27.2,3.2 C27,5.6 26.6,8.4 27,10.4 C27.6,10.6 28.6,9.8 29.2,9 M25.4,6.6 L29.6,6.2 M32.4,7.8 C31,7.2 29.8,8.8 30,10 C30.4,10.8 31.6,9.6 32.4,7.8 C32.2,9 32.2,10.2 33,10.4 C34.2,10.6 35.4,10.2 36.6,9.8" fill="none" stroke="#333" stroke-width="0.75" stroke-linecap="round"/><rect x="36.8" y="5.5" width="3.8" height="3.7" fill="#00aad2"/></svg>
<div style="position:absolute;left:10.40px;top:182.43px;font-size:4.14px;line-height:4.14px;color:#333;font-weight:400;white-space:nowrap;">© 2022 Government of Alberta</div>
<div style="position:absolute;left:0.00px;top:198.90px;width:122.00px;height:5.80px;background:#0081a2;"></div>
<div style="position:absolute;left:0;top:0;width:121.00px;height:203.70px;border:0.5px solid #e8e8e8;box-sizing:content-box;pointer-events:none"></div>
</div>
<div style="position:absolute;left:1222.00px;top:871.00px;width:2.00px;height:2.00px;background:#000;"></div>
</body></html>
